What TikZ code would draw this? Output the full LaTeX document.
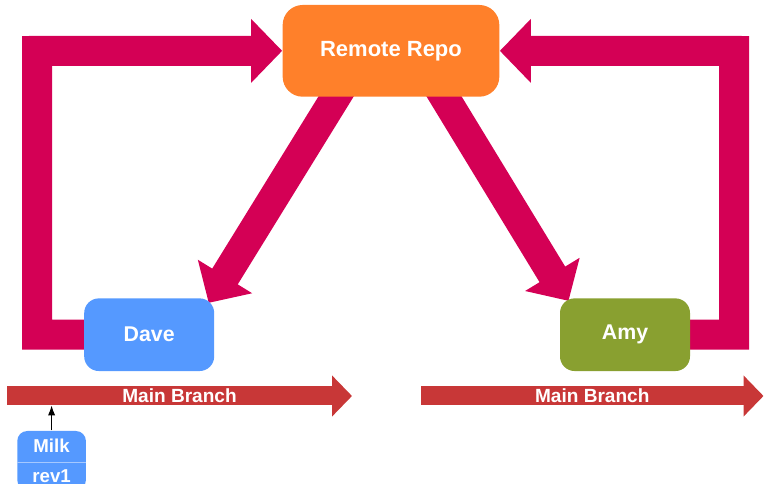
\documentclass[tikz,border=0pt]{standalone}
\usepackage{fontspec}
\setmainfont{Liberation Sans}
\usetikzlibrary{arrows.meta,calc,backgrounds}

\definecolor{flowred}{RGB}{212,0,85}
\definecolor{repoorange}{RGB}{255,128,42}
\definecolor{daveblue}{RGB}{85,153,255}
\definecolor{amygreen}{RGB}{137,160,48}
\definecolor{branchred}{RGB}{200,55,55}
\definecolor{revline}{RGB}{165,200,255}

\tikzset{every picture/.style={line width=0.75pt}}
\tikzset{
  userbox/.style={rounded corners=11pt, minimum width=97.5pt, minimum height=54.5pt, inner sep=0pt, text=white, font=\fontsize{16}{19}\selectfont\bfseries},
  flow/.style={draw=flowred, line width=22.5pt, line join=miter, -{Triangle[length=23.25pt,width=46.5pt]}},
  branch/.style={draw=branchred, line width=14.25pt, -{Triangle[length=15pt,width=30pt]}},
  branchtext/.style={inner sep=0pt, text=white, font=\fontsize{14.3}{16}\selectfont\bfseries},
}

\begin{document}
\begin{tikzpicture}[x=0.75pt,y=0.75pt,yscale=-1,xscale=1]
\path[use as bounding box] (0,0) rectangle (764,484);
\clip (0,0) rectangle (764,484);

% Boxes
\node (remote) [userbox, fill=repoorange, rounded corners=15pt, minimum width=162.5pt, minimum height=68.8pt, font=\fontsize{16.5}{19}\selectfont\bfseries] at (391,50.85) {Remote Repo};
\node (dave) [userbox, fill=daveblue] at (149.2,334.7) {Dave};
\node (amy) [userbox, fill=amygreen] at (625,334.7) {Amy};

% Revision box
\node (milk) [fill=daveblue, rounded corners=7.5pt, minimum width=51.5pt, minimum height=44.25pt, inner sep=0pt, text=white, align=center, font=\fontsize{14}{22.5}\selectfont\bfseries] at (51.6,460.5) {Milk\\rev1};
\draw [revline, line width=0.75pt] ($(milk.west)+(0,1.8)$) -- ($(milk.east)+(0,1.8)$);

% Branches
\coordinate (bl0) at (7,396);
\coordinate (bl1) at (352,396);
\coordinate (br0) at (421,396);
\coordinate (br1) at (763.5,396);
\draw [branch] (bl0) -- (bl1) node [midway, branchtext] {Main Branch};
\draw [branch] (br0) -- (br1) node [midway, branchtext] {Main Branch};
\draw [-{Latex[length=7.5pt,width=5.5pt]}] (milk.north) -- ($(milk.north |- bl0)+(0,9.5)$);

\begin{scope}[on background layer]
% Push / pull loops
\coordinate (lc) at (37,51);
\coordinate (rc) at (734,51);
\draw [flow] (dave.center) -| (lc) -- (remote.west);
\draw [flow] (amy.center) -| (rc) -- (remote.east);
% Clones
\draw [flow] ($(remote.center)+(-36,15)$) -- ($(dave.north east)+(-6,5)$);
\draw [flow] ($(remote.center)+(35,16)$) -- ($(amy.north west)+(9,3)$);
\end{scope}

\end{tikzpicture}
\end{document}
